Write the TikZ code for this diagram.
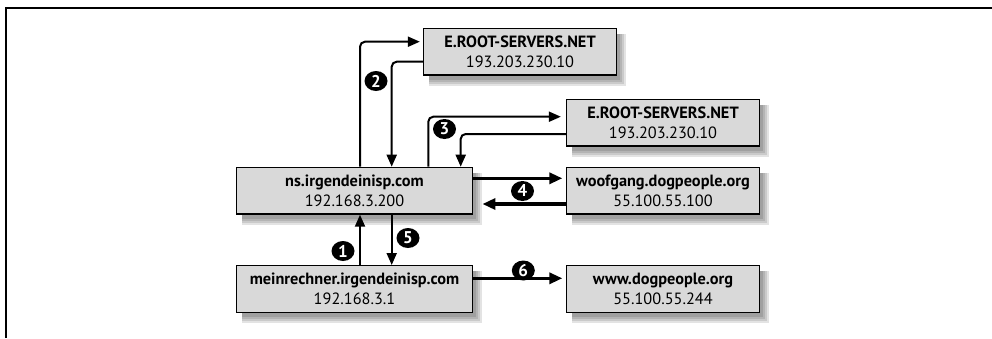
\documentclass[tikz,border=0pt]{standalone}
\usepackage{fontspec}
\setmainfont{PT Sans}
\usetikzlibrary{arrows.meta,calc,backgrounds,shapes.geometric}
\definecolor{boxgray}{HTML}{D9D9D9}
\newcommand\dropshade[1]{%
  \begin{scope}[on background layer]
    \foreach \e in {2,4,6,8}{%
      \fill[black,opacity=0.11] ($(#1.north west)+(6,6)$) rectangle ($(#1.south east)+(1+\e,2+\e)$);}
  \end{scope}}
\tikzset{
  srv/.style={draw=black, line width=1.3pt, fill=boxgray, minimum height=46.7pt,
    inner sep=0pt, align=center, font=\fontsize{16.3}{19.5}\selectfont},
  srvA/.style={srv, minimum width=193pt},
  srvB/.style={srv, minimum width=235.6pt},
  flow/.style={line width=2pt, rounded corners=5pt, -{Triangle[length=12pt,width=10pt]}},
  bigflow/.style={line width=3.2pt, -{Triangle[length=13pt,width=11pt]}},
  num/.style={ellipse, fill=black, text=white, minimum width=23pt, minimum height=20pt,
    inner sep=0pt, font=\bfseries\fontsize{17}{17}\selectfont},
}
\begin{document}
\begin{tikzpicture}[x=1pt,y=-1pt]
\useasboundingbox (0,0) rectangle (992,338);
\draw[line width=1.5pt] (6,338) -- (6,8) -- (992,8);

\node[srvA] (root1) at (520,51.7) {\textbf{E.ROOT-SERVERS.NET}\\193.203.230.10};
\node[srvA] (root2) at (663,122.7) {\textbf{E.ROOT-SERVERS.NET}\\193.203.230.10};
\node[srvA] (woof) at (663,190.7) {\textbf{woofgang.dogpeople.org}\\55.100.55.100};
\node[srvA] (www) at (663,289) {\textbf{www.dogpeople.org}\\55.100.55.244};
\node[srvB] (ns) at (354.5,190.7) {\textbf{ns.irgendeinisp.com}\\192.168.3.200};
\node[srvB] (mein) at (354.5,289) {\textbf{meinrechner.irgendeinisp.com}\\192.168.3.1};
\dropshade{root1}\dropshade{root2}\dropshade{woof}\dropshade{www}\dropshade{ns}\dropshade{mein}

\draw[flow, shorten >=3pt] ([xshift=5.5pt]ns.north) |- ([yshift=10pt]root1.west);
\draw[flow] ([yshift=-10pt]root1.west) -| ([xshift=37.2pt]ns.north);
\draw[flow, shorten >=5pt] ([xshift=73.8pt]ns.north) |- ([yshift=6pt]root2.west);
\draw[flow] ([yshift=-11.3pt]root2.west) -| ([xshift=106.2pt]ns.north);
\draw[flow] ([xshift=5.5pt]mein.north) -- ([xshift=5.5pt]ns.south);
\draw[flow] ([xshift=37.2pt]ns.south) -- ([xshift=37.2pt]mein.north);
\draw[bigflow, shorten >=3.5pt] ([yshift=12.4pt]ns.east) -- ([yshift=12.4pt]woof.west);
\draw[bigflow, shorten >=9.5pt] ([yshift=-13.3pt]woof.west) -- ([yshift=-13.3pt]ns.east);
\draw[bigflow, shorten >=3.5pt] ([yshift=10.7pt]mein.east) -- ([yshift=10.7pt]www.west);

\node[num] (n1) at (343,251) {1};
\node[num] (n2) at (376,81) {2};
\node[num] (n3) at (444.5,129) {3};
\node[num] (n4) at (522.5,191) {4};
\node[num] (n5) at (408,238) {5};
\node[num] (n6) at (523.3,270.5) {6};
\end{tikzpicture}
\end{document}
